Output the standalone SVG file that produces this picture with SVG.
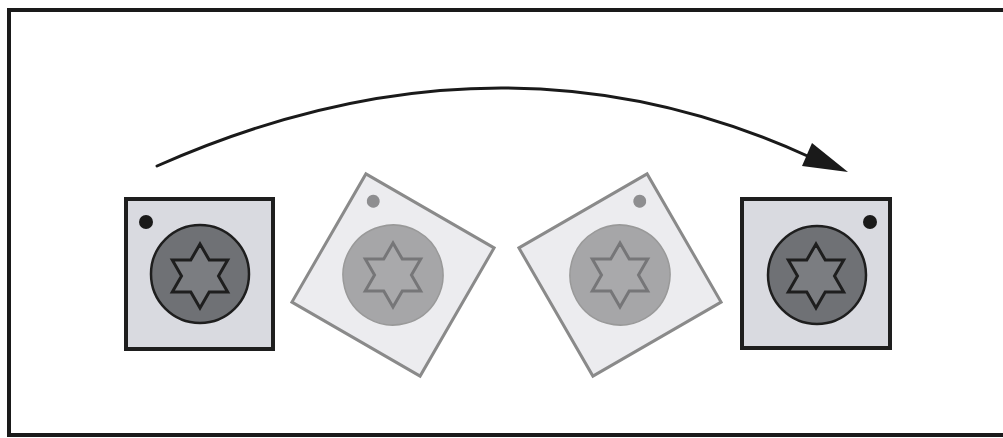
<svg xmlns="http://www.w3.org/2000/svg" width="1003" height="438" viewBox="0 0 1003 438">
<defs>
<style>
.frame{fill:#fff;stroke:#1a1a1a;stroke-width:4}
.boxd{fill:#d9dae0;stroke:#1e1e1e;stroke-width:4}
.circd{fill:#6f7175;stroke:#1e1e1e;stroke-width:2.5}
.stard{fill:#7b7d81;stroke:#1e1e1e;stroke-width:3;stroke-linejoin:miter}
.dotd{fill:#1a1a1a}
.boxl{fill:#ececef;stroke:#8a8a8a;stroke-width:3}
.circl{fill:#a6a6a8;stroke:#999;stroke-width:1.5}
.starl{fill:#a9a9ab;stroke:#767678;stroke-width:3}
.dotl{fill:#8e8e90}
.arrow{fill:none;stroke:#1a1a1a;stroke-width:3;stroke-linecap:round}
</style>
<polygon id="star" points="0,-32 9.2,-16 27.7,-16 18.5,0 27.7,16 9.2,16 0,32 -9.2,16 -27.7,16 -18.5,0 -27.7,-16 -9.2,-16"/>
</defs>
<rect class="frame" x="9" y="10" width="1010" height="425"/>
<g id="node1">
<rect class="boxd" x="126" y="199" width="147" height="150"/>
<circle class="dotd" cx="146" cy="222" r="7"/>
<circle class="circd" cx="200" cy="274" r="49"/>
<use href="#star" class="stard" transform="translate(200,276)"/>
</g>
<g id="node2" transform="translate(393,275) rotate(30)">
<rect class="boxl" x="-74" y="-74" width="148" height="148"/>
<circle class="dotl" cx="-54" cy="-54" r="6.5"/>
<circle class="circl" cx="0" cy="0" r="50"/>
<use href="#star" class="starl" transform="rotate(30)"/>
</g>
<g id="node3" transform="translate(620,275) rotate(-30)">
<rect class="boxl" x="-74" y="-74" width="148" height="148"/>
<circle class="dotl" cx="54" cy="-54" r="6.5"/>
<circle class="circl" cx="0" cy="0" r="50"/>
<use href="#star" class="starl" transform="rotate(30)"/>
</g>
<g id="node4">
<rect class="boxd" x="742" y="199" width="148" height="149"/>
<circle class="dotd" cx="870" cy="222" r="7"/>
<circle class="circd" cx="817" cy="275" r="49"/>
<use href="#star" class="stard" transform="translate(816,276)"/>
</g>
<g id="connectors">
<path class="arrow" d="M157,166 Q500,14 812,158"/>
<polygon points="848,172 812,143 802,166" fill="#1a1a1a"/>
</g>
</svg>
